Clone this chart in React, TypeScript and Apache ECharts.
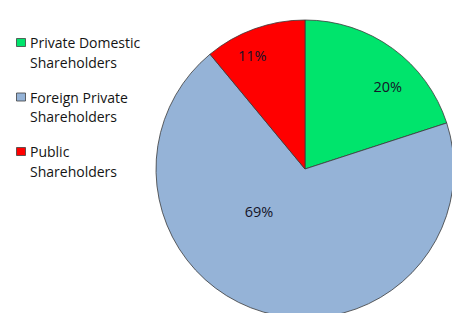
import React, { useEffect, useRef } from "react";
import * as echarts from "echarts";

const categories = ["Private Domestic Shareholders", "Foreign Private Shareholders", "Public Shareholders"];
const legendLines = [["Private Domestic", "Shareholders"], ["Foreign Private", "Shareholders"], ["Public", "Shareholders"]];
const values = [20, 69, 11];
const colors = ["#00E46C", "#95B3D7", "#FF0000"];
const labelTexts = ["20%", "69%", "11%"];

const FONT = "'Open Sans', 'Noto Sans', sans-serif";

export default function App() {
  const ref = useRef<HTMLDivElement>(null);
  useEffect(() => {
    if (!ref.current) return;
    const chart = echarts.init(ref.current, null, { renderer: "svg" });
    const cx = 305, cy = 169, r = 149;
    const labelPlace = [
      { d: 117, a: 45 },
      { d: 63, a: 227 },
      { d: 125, a: 335 },
    ];
    const graphics: any[] = [];
    legendLines.forEach((lines, i) => {
      const top = 37 + i * 54.5;
      graphics.push({
        type: "rect",
        shape: { x: 16.5, y: top + 1.5, width: 9, height: 8 },
        style: { fill: colors[i], stroke: "#404040", lineWidth: 0.8 },
      });
      lines.forEach((t, j) => {
        graphics.push({
          type: "text",
          x: 30,
          y: top + 5.5 + j * 19.5,
          style: { text: t, font: `14px ${FONT}`, fill: "#141414", verticalAlign: "middle", textAlign: "left" },
        });
      });
    });
    labelTexts.forEach((t, i) => {
      const p = labelPlace[i];
      const rad = (p.a * Math.PI) / 180;
      graphics.push({
        type: "text",
        x: cx + p.d * Math.sin(rad),
        y: cy - p.d * Math.cos(rad),
        z: 10,
        style: { text: t, font: `14.5px ${FONT}`, fill: "#141428", align: "center", verticalAlign: "middle", textAlign: "center" },
      });
    });
    chart.setOption({
      animation: false,
      backgroundColor: "#ffffff",
      series: [
        {
          type: "pie",
          center: [cx, cy],
          radius: [0, r],
          startAngle: 90,
          clockwise: true,
          label: { show: false },
          labelLine: { show: false },
          itemStyle: { borderColor: "#3a3a3a", borderWidth: 0.8 },
          emphasis: { disabled: true },
          data: categories.map((c, i) => ({ name: c, value: values[i], itemStyle: { color: colors[i] } })),
        },
      ],
      graphic: graphics,
    });
    return () => chart.dispose();
  }, []);
  return <div ref={ref} style={{ width: 452, height: 313, position: "absolute", left: 0, top: 0 }} />;
}
